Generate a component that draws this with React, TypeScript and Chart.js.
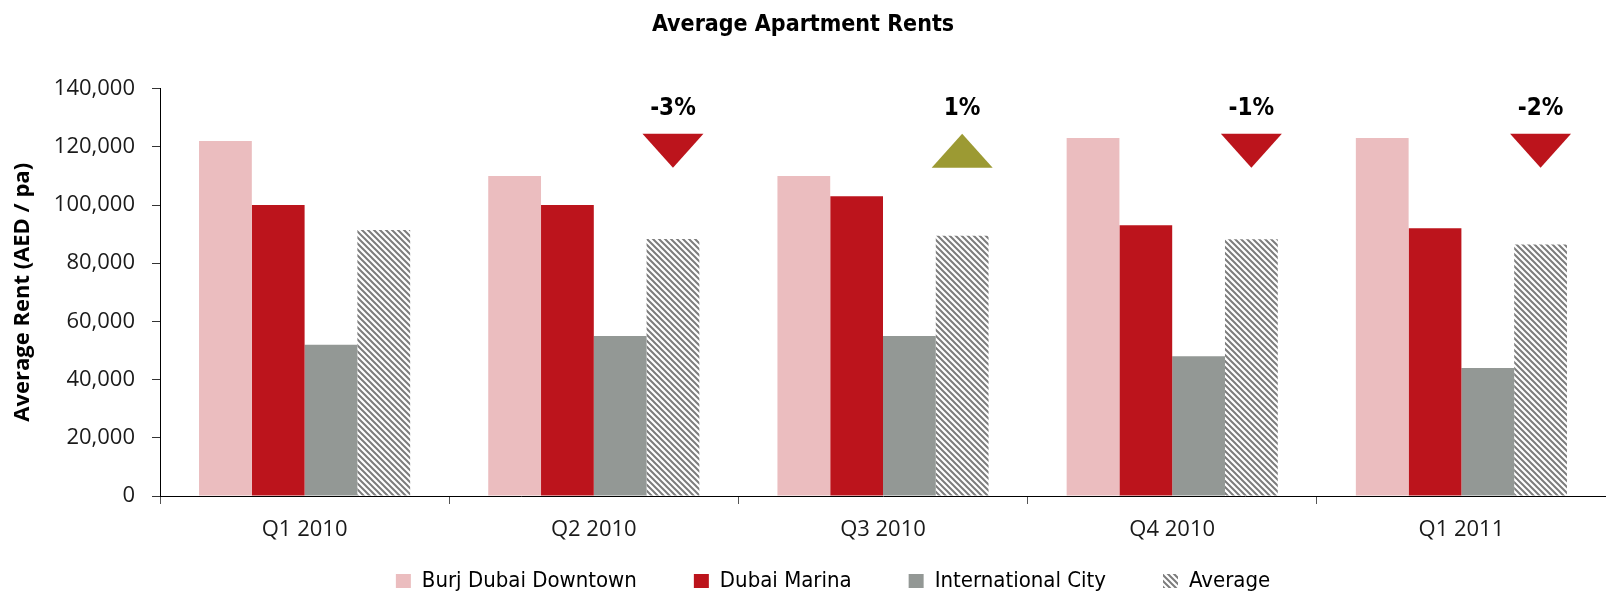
import React, { useEffect, useRef } from "react";
import { Chart, registerables } from "chart.js";

Chart.register(...registerables);

// ---------- data ----------
const categories = ["Q1 2010", "Q2 2010", "Q3 2010", "Q4 2010", "Q1 2011"];
const burjDubaiDowntown = [122000, 110000, 110000, 123000, 123000];
const dubaiMarina = [100000, 100000, 103000, 93000, 92000];
const internationalCity = [52000, 55000, 55000, 48000, 44000];
const averageRent = [91400, 88300, 89400, 88200, 86400];
const changeValues: (number | null)[] = [null, -3, 1, -1, -2];
const changeLabels = ["", "-3%", "1%", "-1%", "-2%"];
const yTickValues = [0, 20000, 40000, 60000, 80000, 100000, 120000, 140000];

// ---------- styling ----------
const NARROW = '"DejaVu Sans Condensed", "Liberation Sans Narrow", sans-serif';
const SANS = '"Open Sans", "Noto Sans", sans-serif';
const PINK = "#EBBDBF";
const RED = "#BC141C";
const GREY = "#939895";
const OLIVE = "#9C9A33";
const MARKER_TOP = 124500;
const MARKER_APEX = 112800;
const MARKER_LABEL = 133200;
const MARKER_HALF_WIDTH = 30.5;
const LEGEND_FONT = 22;
const LEGEND_CENTER_Y = 581;
const LEGEND_SHIFT_X = 30;

function makeStripes(): CanvasPattern | string {
  const size = 6;
  const tile = document.createElement("canvas");
  tile.width = size;
  tile.height = size;
  const g = tile.getContext("2d");
  if (!g) return "#999";
  g.fillStyle = "#ffffff";
  g.fillRect(0, 0, size, size);
  g.strokeStyle = "#7c7c7c";
  g.lineWidth = 2;
  g.beginPath();
  g.moveTo(-2, -2);
  g.lineTo(size + 2, size + 2);
  g.moveTo(-2, size - 2);
  g.lineTo(2, size + 2);
  g.moveTo(size - 2, -2);
  g.lineTo(size + 2, 2);
  g.stroke();
  const pat = g.createPattern(tile, "repeat");
  return pat || "#999";
}

const changeMarkers = {
  id: "changeMarkers",
  afterDatasetsDraw(chart: any) {
    const meta = chart.getDatasetMeta(3);
    const ys = chart.scales.y;
    const ctx = chart.ctx as CanvasRenderingContext2D;
    const yTop = ys.getPixelForValue(MARKER_TOP);
    const yApex = ys.getPixelForValue(MARKER_APEX);
    const yText = ys.getPixelForValue(MARKER_LABEL);
    meta.data.forEach((bar: any, i: number) => {
      const v = changeValues[i];
      if (v === null || v === undefined) return;
      const x = bar.x;
      ctx.save();
      ctx.beginPath();
      if (v < 0) {
        ctx.moveTo(x - MARKER_HALF_WIDTH, yTop);
        ctx.lineTo(x + MARKER_HALF_WIDTH, yTop);
        ctx.lineTo(x, yApex);
        ctx.fillStyle = RED;
      } else {
        ctx.moveTo(x - MARKER_HALF_WIDTH, yApex);
        ctx.lineTo(x + MARKER_HALF_WIDTH, yApex);
        ctx.lineTo(x, yTop);
        ctx.fillStyle = OLIVE;
      }
      ctx.closePath();
      ctx.fill();
      ctx.fillStyle = "#000";
      ctx.font = `bold 24px ${NARROW}`;
      ctx.textAlign = "center";
      ctx.textBaseline = "middle";
      ctx.fillText(changeLabels[i], x, yText);
      ctx.restore();
    });
  },
};

const legendPlacement = {
  id: "legendPlacement",
  afterLayout(chart: any) {
    const lg = chart.legend;
    if (!lg) return;
    lg.left += LEGEND_SHIFT_X;
    lg.right += LEGEND_SHIFT_X;
    const pad = lg.options.labels.padding;
    const top = LEGEND_CENTER_Y - pad - LEGEND_FONT / 2;
    lg.top = top;
    lg.bottom = chart.height;
    lg.height = lg.bottom - lg.top;
  },
};

export default function App() {
  const ref = useRef<HTMLCanvasElement>(null);
  useEffect(() => {
    document.body.style.margin = "0";
    const canvas = ref.current;
    if (!canvas) return;
    const stripes = makeStripes();
    const chart = new Chart(canvas, {
      type: "bar",
      data: {
        labels: categories,
        datasets: [
          { label: "Burj Dubai Downtown", data: burjDubaiDowntown, backgroundColor: PINK },
          { label: "Dubai Marina", data: dubaiMarina, backgroundColor: RED },
          { label: "International City", data: internationalCity, backgroundColor: GREY },
          { label: "Average", data: averageRent, backgroundColor: stripes as any },
        ],
      },
      options: {
        responsive: false,
        animation: false,
        devicePixelRatio: 1,
        datasets: {
          bar: { categoryPercentage: 0.73, barPercentage: 1.0, borderWidth: 0 },
        },
        layout: { padding: 0 },
        plugins: {
          title: {
            display: true,
            text: "Average Apartment Rents",
            color: "#000",
            font: { family: NARROW, size: 23, weight: "bold" },
            padding: { top: 11, bottom: 50 },
          },
          legend: {
            position: "bottom",
            maxHeight: 47,
            labels: {
              color: "#000",
              font: { family: NARROW, size: LEGEND_FONT },
              boxWidth: 15,
              boxHeight: 14,
              padding: 57,
            },
          },
          tooltip: { enabled: false },
        },
        scales: {
          x: {
            afterFit: (s: any) => {
              s.height = 50;
            },
            grid: {
              offset: true,
              drawOnChartArea: false,
              drawTicks: true,
              tickLength: 8,
              color: "#555",
            },
            border: { display: true, color: "#000", width: 1 },
            ticks: {
              color: "#1a1a1a",
              font: { family: SANS, size: 22 },
              padding: 13,
            },
          },
          y: {
            min: 0,
            max: 140000,
            afterFit: (s: any) => {
              s.width = 160;
            },
            afterBuildTicks: (s: any) => {
              s.ticks = yTickValues.map((v) => ({ value: v }));
            },
            grid: {
              drawOnChartArea: false,
              drawTicks: true,
              tickLength: 8,
              color: "#333",
            },
            border: { display: true, color: "#000", width: 1 },
            ticks: {
              color: "#1a1a1a",
              font: { family: SANS, size: 22 },
              padding: 17,
              callback: (v: any) => Number(v).toLocaleString("en-US"),
            },
            title: {
              display: true,
              text: "Average Rent (AED / pa)",
              color: "#000",
              font: { family: SANS, size: 22, weight: "bold" },
              padding: { top: 10, bottom: 0 },
            },
          },
        },
      },
      plugins: [changeMarkers, legendPlacement],
    });
    return () => chart.destroy();
  }, []);
  return <canvas ref={ref} width={1606} height={593} style={{ display: "block" }} />;
}
